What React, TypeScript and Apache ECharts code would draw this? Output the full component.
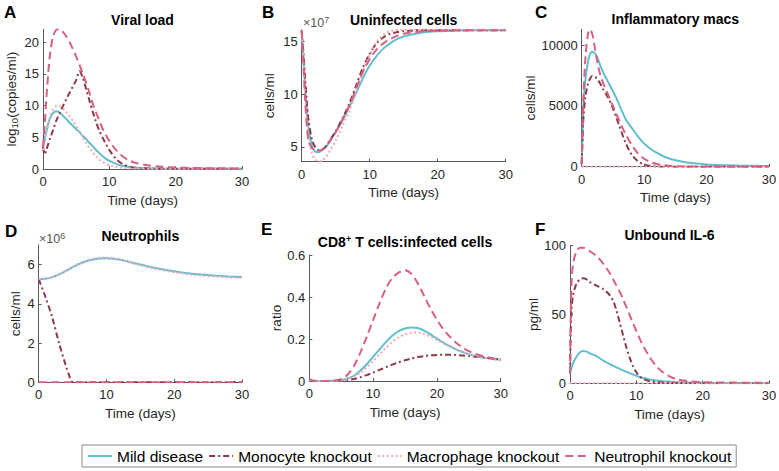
import React, { useEffect, useRef } from 'react';
import * as echarts from 'echarts';

const FONT = '"Liberation Sans", Arial, Helvetica, sans-serif';

const SERIES_NAMES = ['Mild disease', 'Monocyte knockout', 'Macrophage knockout', 'Neutrophil knockout'];
const X_TICKS = [0, 10, 20, 30];

// ---------- A: Viral load (log10 copies/ml) ----------
const timeA = [0, 0.25, 0.5, 1, 1.5, 2, 2.5, 3, 3.5, 4, 4.5, 5, 5.5, 6, 6.5, 7, 7.5, 8, 8.5, 9, 9.5, 10, 11, 12, 13, 14, 16, 18, 20, 22, 25, 28, 30];
const viralMild = [3.3, 4.6, 6.0, 7.8, 8.8, 9.1, 8.9, 8.4, 7.9, 7.3, 6.8, 6.3, 5.8, 5.2, 4.7, 4.1, 3.6, 3.0, 2.5, 2.0, 1.6, 1.3, 0.8, 0.5, 0.32, 0.2, 0.1, 0.06, 0.05, 0.04, 0.03, 0.02, 0.02];
const viralMono = [3.5, 2.3, 3.0, 4.6, 6.1, 7.6, 8.8, 9.9, 11.0, 12.0, 13.0, 14.0, 15.4, 14.4, 12.6, 10.8, 9.0, 7.4, 6.0, 4.9, 3.9, 3.0, 1.6, 0.8, 0.35, 0.18, 0.08, 0.06, 0.05, 0.05, 0.04, 0.04, 0.04];
const viralMacro = [3.0, 4.2, 5.6, 8.0, 9.4, 9.9, 9.9, 9.5, 9.0, 8.3, 7.6, 6.8, 5.9, 5.0, 4.1, 3.3, 2.6, 2.0, 1.5, 1.1, 0.8, 0.6, 0.35, 0.2, 0.12, 0.08, 0.05, 0.04, 0.04, 0.03, 0.03, 0.03, 0.03];
const viralNeut = [3.5, 7.0, 11.0, 17.5, 20.8, 21.9, 22.0, 21.6, 20.9, 20.0, 18.9, 17.7, 16.4, 15.0, 13.6, 12.0, 10.3, 8.9, 7.6, 6.3, 5.3, 4.4, 3.0, 2.0, 1.35, 0.95, 0.55, 0.35, 0.25, 0.18, 0.12, 0.09, 0.08];

// ---------- B: Uninfected cells (x10^7 cells/ml) ----------
const timeB = [0, 0.25, 0.5, 0.75, 1, 1.5, 2, 2.5, 3, 3.5, 4, 5, 6, 7, 8, 9, 10, 11, 12, 13, 14, 15, 16, 18, 20, 22, 25, 30];
const uninfMild = [16.0, 13.5, 10.8, 8.5, 6.8, 5.1, 4.55, 4.5, 4.7, 4.95, 5.4, 6.4, 7.5, 8.8, 10.1, 11.5, 12.7, 13.6, 14.3, 14.8, 15.2, 15.45, 15.6, 15.85, 15.95, 16.0, 16.05, 16.05];
const uninfMono = [16.0, 14.0, 11.5, 9.3, 7.6, 5.7, 4.95, 4.7, 4.75, 5.0, 5.5, 6.5, 7.7, 9.1, 10.8, 12.5, 13.8, 14.8, 15.35, 15.7, 15.85, 15.95, 16.0, 16.05, 16.05, 16.05, 16.05, 16.05];
const uninfMacro = [16.0, 13.0, 10.0, 7.5, 5.8, 4.4, 3.8, 3.62, 3.7, 4.0, 4.5, 5.6, 7.0, 8.4, 10.2, 12.1, 13.7, 14.9, 15.6, 15.95, 16.05, 16.08, 16.1, 16.1, 16.1, 16.1, 16.1, 16.1];
const uninfNeut = [16.0, 13.0, 9.5, 7.0, 5.6, 4.9, 4.7, 4.65, 4.75, 5.0, 5.4, 6.4, 7.6, 8.9, 10.5, 12.1, 13.3, 14.2, 14.8, 15.2, 15.5, 15.7, 15.8, 15.95, 16.0, 16.05, 16.05, 16.05];

// ---------- C: Inflammatory macs (cells/ml) ----------
const timeC = [0, 0.15, 0.3, 0.6, 1, 1.3, 1.7, 2, 2.5, 3, 3.5, 4, 4.5, 5, 5.5, 6, 7, 8, 9, 10, 11, 12, 13, 14, 16, 18, 20, 22, 25, 30];
const macsMild = [200, 3000, 5200, 7200, 8600, 9200, 9450, 9400, 9000, 8300, 7700, 7200, 6700, 6200, 5700, 5100, 3950, 3200, 2500, 1900, 1480, 1150, 880, 680, 430, 280, 190, 140, 90, 50];
const macsMono = [200, 2500, 4200, 5800, 6800, 7200, 7450, 7450, 7200, 6800, 6300, 5900, 5400, 4800, 4100, 3400, 2000, 1000, 450, 180, 60, 20, 0, 0, 0, 0, 0, 0, 0, 0];
const macsMacro = [0, 0, 0, 0, 0, 0, 0, 0, 0, 0, 0, 0, 0, 0, 0, 0, 0, 0, 0, 0, 0, 0, 0, 0, 0, 0, 0, 0, 0, 0];
const macsNeut = [200, 3500, 6000, 9000, 10900, 11300, 10900, 10100, 8600, 7500, 6800, 6200, 5600, 5000, 4400, 3800, 2700, 1800, 1100, 650, 380, 220, 130, 80, 30, 10, 0, 0, 0, 0];

// ---------- D: Neutrophils (x10^6 cells/ml) ----------
const timeD = [0, 1, 2, 3, 4, 4.5, 4.8, 5, 6, 7, 8, 9, 10, 11, 12, 14, 16, 18, 20, 22, 24, 26, 28, 30];
const neutMild = [5.26, 5.28, 5.36, 5.5, 5.68, 5.77, 5.83, 5.87, 6.04, 6.17, 6.26, 6.31, 6.32, 6.3, 6.25, 6.08, 5.92, 5.78, 5.66, 5.56, 5.49, 5.44, 5.4, 5.37];
const neutMono = [5.26, 4.35, 3.3, 2.0, 0.85, 0.35, 0.08, 0.02, 0, 0, 0, 0, 0, 0, 0, 0, 0, 0, 0, 0, 0, 0, 0, 0];
const neutMacro = [5.26, 5.28, 5.36, 5.5, 5.69, 5.79, 5.85, 5.89, 6.07, 6.2, 6.3, 6.35, 6.35, 6.32, 6.25, 6.06, 5.88, 5.73, 5.61, 5.51, 5.44, 5.39, 5.35, 5.33];
const neutNeut = [0, 0, 0, 0, 0, 0, 0, 0, 0, 0, 0, 0, 0, 0, 0, 0, 0, 0, 0, 0, 0, 0, 0, 0];

// ---------- E: CD8+ T cells : infected cells (ratio) ----------
const timeE = [0, 0.5, 2, 4, 5, 6, 7, 8, 9, 10, 11, 12, 13, 14, 15, 16, 17, 18, 19, 20, 21, 22, 23, 24, 25, 26, 27, 28, 29, 30];
const ratioMild = [0.005, 0, 0, 0.001, 0.004, 0.012, 0.025, 0.05, 0.08, 0.115, 0.15, 0.185, 0.215, 0.238, 0.25, 0.255, 0.252, 0.24, 0.222, 0.202, 0.183, 0.166, 0.151, 0.138, 0.127, 0.119, 0.113, 0.108, 0.104, 0.1];
const ratioMono = [0.005, 0, 0, 0.001, 0.002, 0.005, 0.01, 0.018, 0.028, 0.04, 0.053, 0.066, 0.078, 0.089, 0.099, 0.107, 0.114, 0.119, 0.122, 0.124, 0.125, 0.125, 0.124, 0.122, 0.119, 0.116, 0.113, 0.109, 0.106, 0.103];
const ratioMacro = [0.005, 0, 0, 0.001, 0.003, 0.009, 0.02, 0.04, 0.065, 0.095, 0.127, 0.158, 0.186, 0.208, 0.222, 0.23, 0.231, 0.224, 0.211, 0.196, 0.18, 0.164, 0.15, 0.138, 0.127, 0.119, 0.113, 0.108, 0.104, 0.101];
const ratioNeut = [0.01, 0.002, 0, 0.002, 0.01, 0.03, 0.072, 0.135, 0.21, 0.29, 0.37, 0.44, 0.49, 0.516, 0.527, 0.51, 0.465, 0.405, 0.345, 0.292, 0.247, 0.212, 0.182, 0.16, 0.142, 0.13, 0.12, 0.113, 0.107, 0.102];

// ---------- F: Unbound IL-6 (pg/ml) ----------
const timeF = [0, 0.1, 0.25, 0.5, 1, 1.5, 2, 2.5, 3, 4, 5, 6, 6.5, 7, 7.5, 8, 8.5, 9, 9.5, 10, 10.5, 11, 12, 13, 14, 15, 16, 18, 20, 22, 25, 30];
const il6Mild = [7, 9, 11.5, 15, 19.5, 22.5, 23.5, 23, 21.8, 19.8, 16.5, 14.0, 12.8, 11.6, 10.5, 9.4, 8.4, 7.4, 6.4, 5.4, 4.6, 3.9, 2.8, 2.0, 1.5, 1.2, 0.95, 0.6, 0.4, 0.3, 0.2, 0.1];
const il6Mono = [7, 35, 55, 65, 72.5, 75.5, 76.3, 75.5, 73.5, 71, 68.5, 64, 60, 53, 44, 35, 26, 18.5, 12.5, 8, 5, 3.2, 1.5, 0.8, 0.5, 0.3, 0.2, 0.1, 0.05, 0.05, 0.05, 0.05];
const il6Macro = [0, 0, 0, 0, 0, 0, 0, 0, 0, 0, 0, 0, 0, 0, 0, 0, 0, 0, 0, 0, 0, 0, 0, 0, 0, 0, 0, 0, 0, 0, 0, 0];
const il6Neut = [7, 45, 75, 88, 96, 98.5, 98.5, 97.5, 96, 92.5, 87, 80, 75.5, 71, 66.5, 61, 55.5, 49.5, 43.5, 38, 32.5, 27.5, 19, 12.5, 8, 5, 3, 1.4, 0.8, 0.6, 0.5, 0.4];

const Y_TICKS_A = [0, 5, 10, 15, 20];
const Y_TICKS_B = [5, 10, 15];
const Y_TICKS_C = [0, 5000, 10000];
const Y_TICKS_D = [0, 2, 4, 6];
const Y_TICKS_E = [0, 0.2, 0.4, 0.6];
const Y_TICKS_F = [0, 50, 100];

const LINE_STYLES = [
  { color: '#5fbfcf', type: 'solid' as any, width: 2 },
  { color: '#8c3a48', type: [6, 3, 2, 3] as any, width: 2 },
  { color: '#f4a9b3', type: [2, 2.5] as any, width: 2 },
  { color: '#d9607f', type: [8, 4.5] as any, width: 2 },
];

const AXIS_COLOR = '#5a5a5a';
const TEXT_COLOR = '#262626';
const TICK_FS = 13;
const NAME_FS = 13.5;

type Panel = {
  letter: string;
  title: string;
  grid: { left: number; top: number; width: number; height: number };
  yMin: number;
  yMax: number;
  yTicks: number[];
  yName: string;
  yNameGap: number;
  time: number[];
  values: number[][];
  titleY: number;
  letterPos: [number, number];
};

const PANELS: Panel[] = [
  {
    letter: 'A', title: '{t|Viral load}',
    grid: { left: 43, top: 29.3, width: 199, height: 139.7 },
    yMin: 0, yMax: 22, yTicks: Y_TICKS_A,
    yName: '{n|log}{s|10}{n|(copies/ml)}', yNameGap: 23.5,
    time: timeA, values: [viralMild, viralMono, viralMacro, viralNeut],
    titleY: 19.5, letterPos: [4, 12.5],
  },
  {
    letter: 'B', title: '{t|Uninfected cells}',
    grid: { left: 301.7, top: 29.6, width: 204, height: 132.1 },
    yMin: 3.6, yMax: 16.1, yTicks: Y_TICKS_B,
    yName: 'cells/ml', yNameGap: 25.5,
    time: timeB, values: [uninfMild, uninfMono, uninfMacro, uninfNeut],
    titleY: 19.8, letterPos: [262, 12.5],
  },
  {
    letter: 'C', title: '{t|Inflammatory macs}',
    grid: { left: 581.7, top: 29.3, width: 187.3, height: 137.4 },
    yMin: 0, yMax: 11300, yTicks: Y_TICKS_C,
    yName: 'cells/ml', yNameGap: 35.5,
    time: timeC, values: [macsMild, macsMono, macsMacro, macsNeut],
    titleY: 19.3, letterPos: [535, 12.5],
  },
  {
    letter: 'D', title: '{t|Neutrophils}',
    grid: { left: 38.7, top: 245, width: 203.3, height: 137.3 },
    yMin: 0, yMax: 7, yTicks: Y_TICKS_D,
    yName: 'cells/ml', yNameGap: 16.5,
    time: timeD, values: [neutMild, neutMono, neutMacro, neutNeut],
    titleY: 235.5, letterPos: [5, 231.5],
  },
  {
    letter: 'E', title: '{t|CD8}{sup|+}{t| T cells:infected cells}',
    grid: { left: 309.3, top: 255, width: 191.4, height: 126 },
    yMin: 0, yMax: 0.6, yTicks: Y_TICKS_E,
    yName: 'ratio', yNameGap: 23.5,
    time: timeE, values: [ratioMild, ratioMono, ratioMacro, ratioNeut],
    titleY: 242, letterPos: [261, 229.5],
  },
  {
    letter: 'F', title: '{t|Unbound IL-6}',
    grid: { left: 570, top: 245.7, width: 199, height: 137.6 },
    yMin: 0, yMax: 100, yTicks: Y_TICKS_F,
    yName: 'pg/ml', yNameGap: 23,
    time: timeF, values: [il6Mild, il6Mono, il6Macro, il6Neut],
    titleY: 235, letterPos: [535, 229.5],
  },
];

function buildOption() {
  const grids: any[] = [];
  const xAxes: any[] = [];
  const yAxes: any[] = [];
  const series: any[] = [];
  const graphics: any[] = [];

  PANELS.forEach((p, i) => {
    grids.push({ ...p.grid, containLabel: false, outerBoundsMode: 'none' });
    xAxes.push({
      type: 'value', gridIndex: i, min: 0, max: 30,
      axisLine: { show: true, onZero: false, lineStyle: { color: AXIS_COLOR, width: 1 } },
      axisTick: { show: true, inside: true, length: 3, customValues: X_TICKS, lineStyle: { color: AXIS_COLOR } },
      axisLabel: { customValues: X_TICKS, fontSize: TICK_FS, color: TEXT_COLOR, margin: 6, fontFamily: FONT, formatter: (v: number) => String(v) },
      splitLine: { show: false },
      name: 'Time (days)', nameLocation: 'middle', nameGap: 24,
      nameTextStyle: { fontSize: NAME_FS, color: TEXT_COLOR, fontFamily: FONT },
    });
    yAxes.push({
      type: 'value', gridIndex: i, min: p.yMin, max: p.yMax,
      axisLine: { show: true, onZero: false, lineStyle: { color: AXIS_COLOR, width: 1 } },
      axisTick: { show: true, inside: true, length: 3, customValues: p.yTicks, lineStyle: { color: AXIS_COLOR } },
      axisLabel: { customValues: p.yTicks, fontSize: TICK_FS, color: TEXT_COLOR, margin: 4, fontFamily: FONT, formatter: (v: number) => String(v) },
      splitLine: { show: false },
      name: p.yName, nameLocation: 'middle', nameGap: p.yNameGap,
      nameTextStyle: {
        fontSize: NAME_FS, color: TEXT_COLOR, fontFamily: FONT,
        rich: {
          n: { fontSize: NAME_FS, color: TEXT_COLOR, fontFamily: FONT },
          s: { fontSize: 9.5, color: TEXT_COLOR, fontFamily: FONT, padding: [6, 0, 0, 0], verticalAlign: 'bottom' },
        },
      },
    });
    p.values.forEach((vals, j) => {
      const st = LINE_STYLES[j];
      series.push({
        type: 'line', name: SERIES_NAMES[j], xAxisIndex: i, yAxisIndex: i,
        data: p.time.map((t, k) => [t, vals[k]]),
        symbol: 'none', showSymbol: false, smooth: 0.3,
        color: st.color,
        lineStyle: { color: st.color, type: st.type, width: st.width },
        itemStyle: { color: st.color },
        emphasis: { disabled: true },
        z: 2 + j,
      });
    });
    const cx = p.grid.left + p.grid.width / 2;
    graphics.push({
      type: 'text', x: cx, y: p.titleY, silent: true,
      style: {
        text: p.title, align: 'center', verticalAlign: 'middle',
        fontFamily: FONT, fontWeight: 'bold', fontSize: 14, fill: '#000',
        rich: {
          t: { fontFamily: FONT, fontWeight: 'bold', fontSize: 14, fill: '#000' },
          sup: { fontFamily: FONT, fontWeight: 'bold', fontSize: 9.5, fill: '#000', padding: [0, 0, 8, 0], verticalAlign: 'top' },
        },
      },
    });
    graphics.push({
      type: 'text', x: p.letterPos[0], y: p.letterPos[1], silent: true,
      style: { text: p.letter, align: 'left', verticalAlign: 'middle', fontFamily: FONT, fontWeight: 'bold', fontSize: 17, fill: '#000' },
    });
  });

  const mult = (x: number, y: number, exp: string) => ({
    type: 'text', x, y, silent: true,
    style: {
      text: '{a|×10}{b|' + exp + '}', align: 'left', verticalAlign: 'middle',
      fontFamily: FONT, fontSize: 12.5, fill: '#555',
      rich: {
        a: { fontFamily: FONT, fontSize: 12.5, fill: '#555' },
        b: { fontFamily: FONT, fontSize: 9, fill: '#555', padding: [0, 0, 6, 0], verticalAlign: 'top' },
      },
    },
  });
  graphics.push(mult(303, 23, '7'));
  graphics.push(mult(39, 239, '6'));

  return {
    animation: false,
    backgroundColor: '#ffffff',
    textStyle: { fontFamily: FONT },
    grid: grids,
    xAxis: xAxes,
    yAxis: yAxes,
    series,
    graphic: graphics,
    legend: {
      data: SERIES_NAMES,
      left: 82, top: 445,
      orient: 'horizontal',
      itemWidth: 24, itemHeight: 12, itemGap: 5,
      borderColor: '#8a8a8a', borderWidth: 1, borderRadius: 0,
      padding: [3, 5, 3, 5],
      backgroundColor: '#ffffff',
      itemStyle: { color: 'rgba(0,0,0,0)', opacity: 0, borderWidth: 0 },
      textStyle: { fontSize: 15.5, color: '#000', fontFamily: FONT },
      selectedMode: false,
    },
  };
}

export default function App() {
  const ref = useRef<HTMLDivElement>(null);
  useEffect(() => {
    if (!ref.current) return;
    const chart = echarts.init(ref.current, null, { renderer: 'svg' });
    chart.setOption(buildOption() as any);
    return () => chart.dispose();
  }, []);
  return <div ref={ref} style={{ position: 'absolute', left: 0, top: 0, width: 779, height: 471, background: '#fff' }} />;
}
